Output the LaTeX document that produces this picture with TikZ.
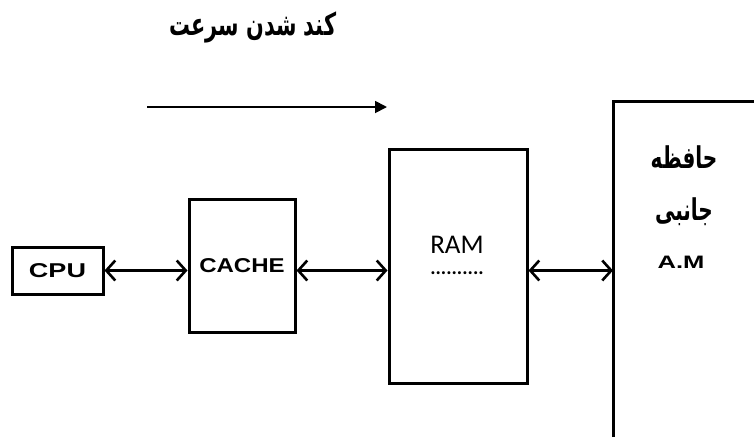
\documentclass[tikz,border=0pt]{standalone}
\usepackage{fontspec}
\setmainfont{Liberation Sans}
\newfontfamily\ramfont{Carlito}
\newfontfamily\farsifont[Script=Arabic]{DejaVu Sans}
\TeXXeTstate=1
\usetikzlibrary{arrows.meta,calc}
\tikzset{
  unitbox/.style={draw,line width=3pt,inner sep=0pt,font=\bfseries\fontsize{20}{22}\selectfont},
  link/.style={line width=2.6pt,{Straight Barb[length=9pt,width=20pt]}-{Straight Barb[length=9pt,width=20pt]}},
  farsi/.style={inner sep=0pt,font=\farsifont\bfseries\fontsize{25}{28}\selectfont}
}
\begin{document}
\begin{tikzpicture}[x=1pt,y=-1pt]
  \useasboundingbox (0,0) rectangle (754,437);
  % title and direction
  \node[farsi,font=\farsifont\bfseries\fontsize{26}{28}\selectfont] (slow) at (253,27) {\scalebox{0.8}[1.2]{\beginR کند شدن سرعت\endR}};
  \coordinate (go) at (147,107); \coordinate (stop) at (387,107);
  \draw[line width=1.8pt,-{Triangle[length=12pt,width=12pt]}] (go) -- (stop);
  % the levels
  \node[unitbox,minimum width=91pt,minimum height=47pt] (cpu) at (57.5,270.5) {\scalebox{1.35}[1]{CPU}};
  \node[unitbox,minimum width=106pt,minimum height=133pt] (cache) at (242,265.5) {\scalebox{1.2}[1]{CACHE}};
  \node[unitbox,minimum width=138pt,minimum height=234pt] (ram) at (458,266) {};
  \node[inner sep=0pt,font=\ramfont\fontsize{27}{30}\selectfont] (ramtext) at (457,245) {RAM};
  \node[inner sep=0pt,text height=4pt,text depth=0pt,font=\ramfont\bfseries\fontsize{20}{22}\selectfont] (ramdots) at (457,272) {..........};
  % auxiliary memory, cut off at the edges
  \draw[line width=3pt] (613,437) -- (613,101) -- (754,101);
  \coordinate (am) at (613,270.5);
  \node[farsi] (hafeze) at (684,157) {\scalebox{0.8}[1.2]{\beginR حافظه\endR}};
  \node[farsi] (janebi) at (684,212) {\scalebox{0.8}[1.2]{\beginR جانبی\endR}};
  \node[inner sep=0pt,font=\bfseries\fontsize{18}{20}\selectfont] (amtext) at (681,262) {\scalebox{1.42}[1]{A.M}};
  % links
  \draw[link] (cpu.east) -- (cpu.east -| cache.west);
  \draw[link] (cache.east |- cpu.east) -- (ram.west |- cpu.east);
  \draw[link] (ram.east |- am) -- (am);
\end{tikzpicture}
\end{document}
